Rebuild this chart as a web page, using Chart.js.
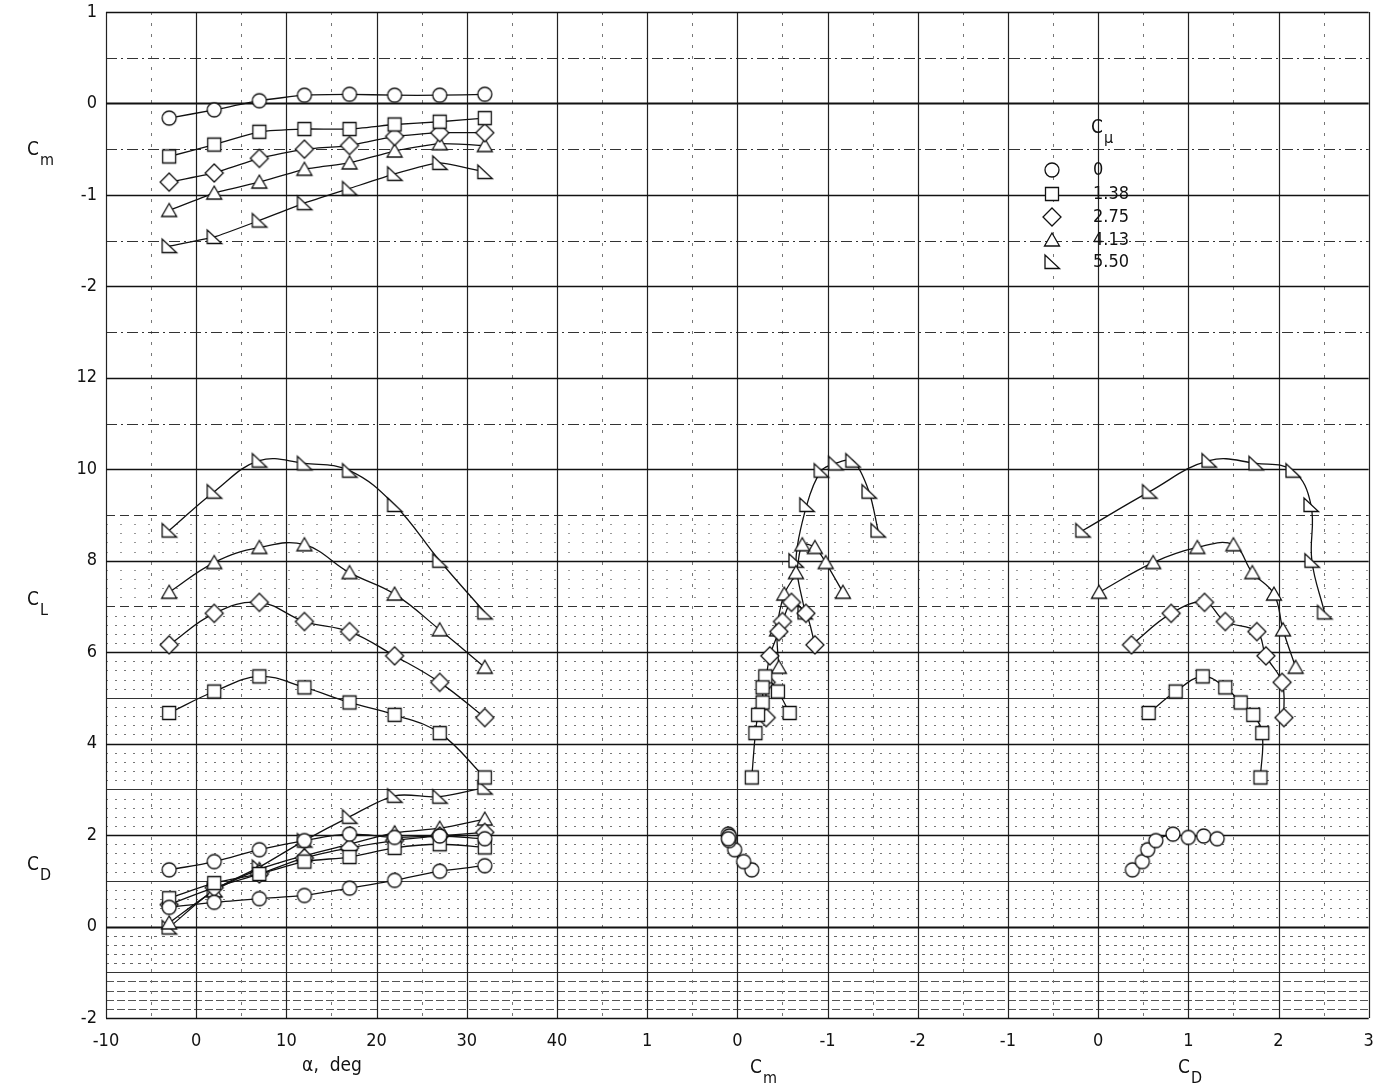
<!DOCTYPE html>
<html>
<head>
<meta charset="utf-8">
<script src="https://cdn.jsdelivr.net/npm/chart.js@4/dist/chart.umd.min.js"></script>
<style>
  html, body { margin: 0; padding: 0; background: #fff; }
  #wrap { width: 1378px; height: 1089px; }
</style>
</head>
<body>
<div id="wrap"><canvas id="c" width="1378" height="1089"></canvas></div>
<script>
// angle of attack, deg (same for every C_mu run)
const alphaDeg = [-3, 2, 7, 12, 17, 22, 27, 32];
const cmuLabels = ['0', '1.38', '2.75', '4.13', '5.50'];

// pitching moment vs alpha (top panel)
const cmAlpha = [
  [-0.16, -0.07, 0.03, 0.09, 0.10, 0.09, 0.09, 0.10],
  [-0.58, -0.45, -0.31, -0.28, -0.28, -0.23, -0.20, -0.16],
  [-0.86, -0.76, -0.60, -0.50, -0.46, -0.36, -0.32, -0.32],
  [-1.17, -0.98, -0.86, -0.72, -0.65, -0.52, -0.44, -0.46],
  [-1.56, -1.46, -1.28, -1.09, -0.93, -0.77, -0.65, -0.75]
];
// lift vs alpha
const clAlpha = [
  [1.24, 1.42, 1.68, 1.88, 2.02, 1.95, 1.98, 1.92],
  [4.67, 5.14, 5.47, 5.23, 4.90, 4.63, 4.23, 3.26],
  [6.16, 6.85, 7.09, 6.67, 6.45, 5.92, 5.34, 4.57],
  [7.31, 7.96, 8.29, 8.35, 7.74, 7.27, 6.49, 5.67],
  [8.66, 9.51, 10.19, 10.13, 9.97, 9.22, 8.00, 6.87]
];
// drag vs alpha
const cdAlpha = [
  [0.42, 0.53, 0.61, 0.68, 0.84, 1.01, 1.21, 1.33],
  [0.62, 0.95, 1.15, 1.42, 1.52, 1.72, 1.80, 1.73],
  [0.48, 0.85, 1.15, 1.50, 1.72, 1.88, 1.98, 2.06],
  [0.08, 0.78, 1.25, 1.55, 1.80, 2.05, 2.15, 2.35],
  [-0.02, 0.80, 1.30, 1.88, 2.40, 2.86, 2.84, 3.04]
];
// drag as read from the C_L - C_D polar (right panel)
const cdPolar = [
  [0.38, 0.49, 0.55, 0.64, 0.83, 1.00, 1.17, 1.32],
  [0.56, 0.86, 1.16, 1.41, 1.58, 1.72, 1.82, 1.80],
  [0.37, 0.81, 1.18, 1.41, 1.76, 1.86, 2.04, 2.06],
  [0.01, 0.61, 1.10, 1.50, 1.71, 1.95, 2.05, 2.19],
  [-0.17, 0.57, 1.23, 1.75, 2.16, 2.36, 2.37, 2.51]
];

// tick labels of the shared grid (one label per grid unit)
const xTickLabels = ['-10', '0', '10', '20', '30', '40', '1', '0', '-1', '-2', '-1', '0', '1', '2', '3'];
const yTickLabels = ['-2', '0', '2', '4', '6', '8', '10', '12', '-2', '-1', '0', '1'];

// panel -> grid unit mapping
const uAlpha = a => (a + 10) / 10;
const uCm = cm => 7 - cm;
const uCd = cd => 11 + cd;
const vCmTop = cm => cm + 10;
const vLow = c => (c + 2) / 2;

const FONT = "'Liberation Sans Narrow', 'DejaVu Sans Condensed', 'Liberation Sans', sans-serif";
const INK = '#111';

function mk(draw) {
  const c = document.createElement('canvas');
  c.width = 22; c.height = 22;
  const g = c.getContext('2d');
  g.lineWidth = 1.3; g.strokeStyle = INK; g.fillStyle = '#fff';
  g.beginPath(); draw(g); g.closePath(); g.fill(); g.stroke();
  return c;
}
const markers = [
  mk(g => g.arc(11, 11, 7, 0, Math.PI * 2)),
  mk(g => g.rect(4.5, 4.5, 13, 13)),
  mk(g => { g.moveTo(11, 2); g.lineTo(20, 11); g.lineTo(11, 20); g.lineTo(2, 11); }),
  mk(g => { g.moveTo(11, 4); g.lineTo(18.5, 17); g.lineTo(3.5, 17); }),
  mk(g => { g.moveTo(4, 4); g.lineTo(4, 17.5); g.lineTo(18.5, 17.5); })
];

function series(s, xs, ys, tension) {
  return {
    data: xs.map((x, k) => ({ x, y: ys[k] })),
    showLine: true, borderColor: INK, borderWidth: 1.3, tension,
    pointStyle: markers[s], pointRadius: 8, pointHoverRadius: 8
  };
}

const datasets = [];
for (let s = 0; s < 5; s++) {
  const ua = alphaDeg.map(uAlpha);
  datasets.push(series(s, ua, cmAlpha[s].map(vCmTop), 0.15));
  datasets.push(series(s, ua, clAlpha[s].map(vLow), 0.4));
  datasets.push(series(s, ua, cdAlpha[s].map(vLow), 0.3));
  datasets.push(series(s, cmAlpha[s].map(uCm), clAlpha[s].map(vLow), 0.3));
  datasets.push(series(s, cdPolar[s].map(uCd), clAlpha[s].map(vLow), 0.4));
}

const paperGrid = {
  id: 'paperGrid',
  beforeDatasetsDraw(chart) {
    const { ctx, chartArea: a, scales: { x, y } } = chart;
    const hl = (v, dash, color, w) => {
      const py = Math.round(y.getPixelForValue(v)) + 0.5;
      ctx.setLineDash(dash); ctx.strokeStyle = color; ctx.lineWidth = w;
      ctx.beginPath(); ctx.moveTo(a.left, py); ctx.lineTo(a.right, py); ctx.stroke();
    };
    const vl = (u, dash, color, w) => {
      const px = Math.round(x.getPixelForValue(u)) + 0.5;
      ctx.setLineDash(dash); ctx.strokeStyle = color; ctx.lineWidth = w;
      ctx.beginPath(); ctx.moveTo(px, a.top); ctx.lineTo(px, a.bottom); ctx.stroke();
    };
    ctx.save();
    // fine rows of the graph paper
    for (let i = 1; i < 56; i++) {
      if (i % 5 === 0) continue;
      const v = i / 10;
      if (v < 0.5) hl(v, [8, 3], '#555', 1);
      else if (v < 1) hl(v, [3, 5], '#666', 1);
      else if (v < 4.5) hl(v, [2, 7], '#777', 1);
      else hl(v, [2, 12], '#999', 1);
    }
    // half-unit verticals
    for (let u = 0.5; u < 14; u += 1) vl(u, [3, 8], '#777', 1);
    // half-unit rows
    for (let v = 0.5; v < 11; v += 1) {
      if (v < 4) hl(v, [], '#333', 1);
      else if (v < 6) hl(v, [9, 5], '#333', 1);
      else hl(v, [11, 4, 2, 4], '#333', 1);
    }
    // major lines
    for (let u = 0; u <= 14; u++) vl(u, [], '#222', 1.2);
    for (let v = 0; v <= 11; v++) hl(v, [], INK, (v === 1 || v === 10) ? 2.2 : 1.4);
    ctx.restore();
  }
};

function subText(ctx, main, sub, x, y, size) {
  ctx.font = size + 'px ' + FONT;
  ctx.textAlign = 'left'; ctx.textBaseline = 'middle';
  ctx.fillText(main, x, y);
  const w = ctx.measureText(main).width;
  ctx.font = Math.round(size * 0.85) + 'px ' + FONT;
  ctx.fillText(sub, x + w + 1, y + size * 0.55);
}

const annotations = {
  id: 'annotations',
  afterDraw(chart) {
    const ctx = chart.ctx;
    ctx.save();
    ctx.fillStyle = INK;
    subText(ctx, 'C', 'm', 27, 150, 19);
    subText(ctx, 'C', 'L', 27, 600, 19);
    subText(ctx, 'C', 'D', 27, 865, 19);
    ctx.font = '19px ' + FONT; ctx.textAlign = 'center'; ctx.textBaseline = 'middle';
    ctx.fillText('\u03b1,  deg', 332, 1066);
    subText(ctx, 'C', 'm', 750, 1068, 19);
    subText(ctx, 'C', 'D', 1178, 1068, 19);
    // legend
    subText(ctx, 'C', '\u03bc', 1091, 128, 19);
    const rows = [170, 194, 217, 240, 262];
    rows.forEach((ry, s) => {
      const m = markers[s];
      ctx.drawImage(m, 1052 - m.width / 2, ry - m.height / 2);
      ctx.font = '18px ' + FONT; ctx.textAlign = 'left'; ctx.textBaseline = 'middle';
      ctx.fillStyle = INK;
      ctx.fillText(cmuLabels[s], 1093, ry);
    });
    ctx.restore();
  }
};

new Chart(document.getElementById('c'), {
  type: 'scatter',
  data: { datasets },
  options: {
    responsive: false,
    animation: false,
    layout: { padding: { top: 12, right: 8, left: 0, bottom: 0 } },
    plugins: { legend: { display: false }, tooltip: { enabled: false } },
    scales: {
      x: {
        type: 'linear', min: 0, max: 14,
        grid: { display: false, drawTicks: false },
        border: { display: false },
        ticks: {
          stepSize: 1, autoSkip: false, maxRotation: 0, padding: 13,
          color: INK, font: { family: FONT, size: 18 },
          callback: v => xTickLabels[v] ?? ''
        },
        afterFit: sc => { sc.height = 71; sc.paddingLeft = 0; sc.paddingRight = 0; }
      },
      y: {
        type: 'linear', min: 0, max: 11,
        grid: { display: false, drawTicks: false },
        border: { display: false },
        ticks: {
          stepSize: 1, autoSkip: false, padding: 9,
          color: INK, font: { family: FONT, size: 18 },
          callback: v => yTickLabels[v] ?? ''
        },
        afterFit: sc => { sc.width = 106; sc.paddingTop = 0; sc.paddingBottom = 0; }
      }
    }
  },
  plugins: [paperGrid, annotations]
});
</script>
</body>
</html>
